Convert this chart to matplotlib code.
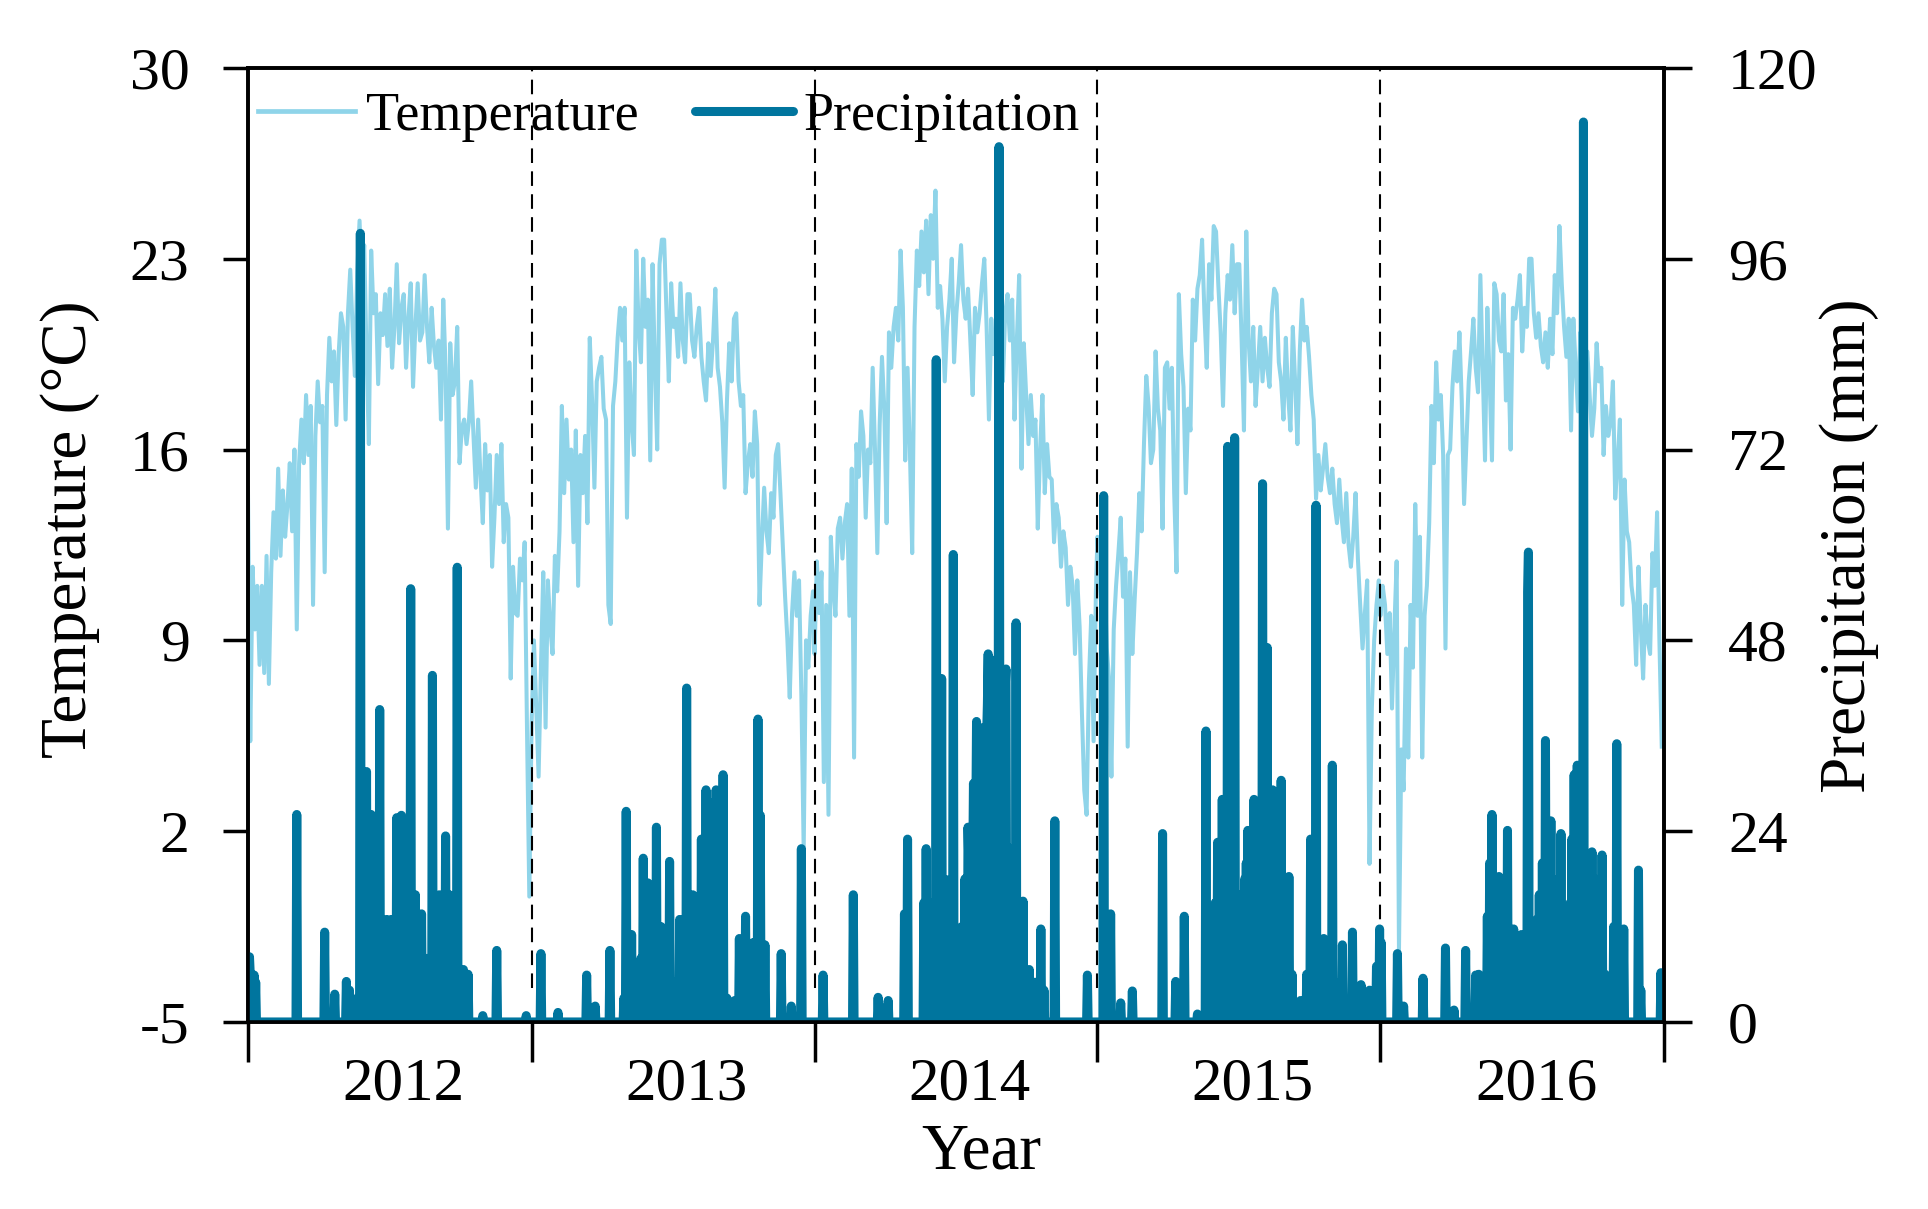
#-------------------------------------------------------------------------------
# Daily temperature and precipitation, 2012-2016
#-------------------------------------------------------------------------------
import numpy as np
import pandas as pd
import matplotlib
matplotlib.use('Agg')
import matplotlib.pyplot as plt
from matplotlib.lines import Line2D

plt.rcParams['font.family'] = ['Liberation Serif', 'DejaVu Serif']
plt.rcParams['axes.unicode_minus'] = False

#-------------------------------------------------------------------------------
# Data
#-------------------------------------------------------------------------------
years = [2012, 2013, 2014, 2015, 2016]
temp_step = 3  # days between temperature readings

temp_2012 = [14.6, 5.3, 11.7, 9.4, 11.0, 8.1, 11.0, 7.8, 12.1, 7.4, 11.5, 13.7,
             12.0, 15.3, 12.1, 14.5, 12.8, 14.0, 15.5, 13.0, 16.0, 9.4, 15.5, 17.1,
             15.5, 18.0, 15.8, 17.6, 10.3, 16.5, 18.5, 17.0, 17.6, 11.5, 18.0, 20.1,
             18.5, 19.6, 16.9, 19.5, 21.0, 20.5, 17.1, 21.0, 22.6, 20.5, 18.7, 22.5,
             24.4, 22.0, 23.5, 19.5, 16.2, 23.3, 21.0, 21.7, 18.4, 21.0, 20.2, 21.7,
             19.8, 21.9, 19.0, 20.5, 22.8, 19.9, 21.2, 21.7, 19.0, 20.8, 22.1, 18.3,
             20.5, 22.1, 20.0, 20.3, 22.4, 20.5, 19.2, 21.2, 19.8, 19.0, 20.0, 17.1,
             21.5, 19.0, 13.1, 19.9, 18.0, 18.5, 20.5, 15.5, 16.8, 17.1, 16.2, 17.0,
             18.5, 16.5, 14.6, 17.1, 15.0, 13.3, 16.2, 14.5, 15.8, 11.7, 13.5, 15.8,
             14.0, 16.2, 12.6, 14.0, 13.5, 7.6, 11.7, 10.0, 9.9, 12.0, 11.2, 12.6,
             5.8, -0.4]
temp_2013 = [6.0, 9.0, 6.5, 4.0, 8.0, 11.5, 5.8, 11.2, 9.5, 8.5, 12.1, 10.8,
             13.0, 17.6, 14.4, 17.1, 14.9, 16.0, 12.6, 16.7, 11.0, 15.8, 14.4, 16.5,
             13.3, 20.1, 17.8, 14.6, 18.5, 19.0, 19.4, 17.5, 17.1, 10.3, 9.6, 17.6,
             18.5, 20.1, 21.2, 20.0, 21.2, 13.5, 19.2, 17.0, 15.8, 23.3, 20.5, 19.2,
             23.0, 20.5, 21.5, 15.6, 22.8, 19.0, 16.0, 22.8, 23.7, 23.7, 21.0, 18.5,
             22.1, 20.5, 20.8, 19.4, 22.1, 20.0, 19.2, 21.7, 21.7, 20.0, 19.4, 20.5,
             21.2, 19.4, 18.5, 17.8, 19.9, 18.7, 20.0, 21.9, 19.0, 18.3, 17.0, 14.6,
             17.8, 19.9, 18.5, 20.8, 21.0, 18.5, 17.6, 18.0, 14.4, 15.5, 16.2, 15.0,
             17.4, 16.2, 10.3, 12.6, 14.6, 13.0, 12.2, 14.4, 13.5, 15.8, 16.2, 14.4,
             12.5, 10.6, 9.0, 6.9, 10.0, 11.5, 9.9, 11.2, 7.0, 1.3, 9.0, 8.0,
             9.9, 10.8]
temp_2014 = [8.5, 11.9, 10.0, 11.5, 3.8, 10.3, 2.6, 12.8, 11.0, 9.9, 13.1, 13.5,
             12.0, 13.3, 14.0, 9.9, 15.3, 4.7, 16.2, 15.0, 17.4, 16.5, 13.5, 16.0,
             15.5, 19.0, 16.0, 12.2, 16.9, 19.4, 17.5, 13.3, 20.3, 19.0, 20.5, 21.2,
             20.0, 23.3, 21.2, 15.6, 19.0, 16.0, 12.2, 20.5, 23.3, 22.0, 24.0, 22.5,
             24.4, 21.7, 24.6, 23.0, 25.5, 21.2, 22.0, 20.8, 18.5, 20.5, 21.5, 23.0,
             19.2, 21.0, 22.1, 23.5, 21.5, 20.8, 21.9, 20.0, 18.0, 21.2, 20.3, 21.0,
             22.1, 23.0, 20.5, 17.1, 20.8, 19.5, 20.3, 21.7, 20.0, 18.5, 21.0, 21.7,
             20.0, 21.5, 17.1, 20.0, 22.4, 15.3, 19.9, 18.0, 16.2, 18.0, 16.5, 17.1,
             13.1, 16.0, 18.0, 14.4, 16.2, 15.0, 14.9, 12.6, 14.0, 13.5, 11.7, 13.0,
             12.4, 10.3, 11.7, 11.0, 8.5, 11.2, 9.5, 6.3, 3.5, 2.6, 7.5, 9.9,
             5.3, 10.8]
temp_2015 = [12.8, 11.0, 9.9, 11.5, 8.7, 7.6, 4.0, 9.4, 11.0, 12.2, 13.5, 10.6,
             12.0, 5.1, 11.5, 8.5, 10.5, 12.2, 14.4, 13.0, 16.2, 18.7, 17.6, 15.5,
             16.0, 19.6, 17.5, 16.7, 13.1, 19.0, 19.2, 17.5, 19.0, 14.4, 11.5, 21.7,
             19.5, 18.3, 14.4, 17.5, 16.7, 21.5, 20.0, 21.9, 22.4, 23.7, 21.0, 19.0,
             22.8, 21.5, 24.2, 24.0, 22.0, 20.3, 17.6, 21.0, 22.4, 21.5, 23.5, 21.0,
             22.8, 22.8, 20.0, 16.7, 24.0, 20.0, 18.5, 20.5, 17.6, 19.0, 20.5, 18.5,
             20.1, 19.0, 18.3, 21.0, 21.9, 21.7, 19.2, 18.5, 17.1, 20.1, 18.0, 16.7,
             20.5, 18.5, 16.2, 19.6, 21.5, 20.0, 20.5, 19.4, 18.0, 17.1, 14.2, 15.8,
             14.5, 15.3, 16.2, 15.0, 14.4, 15.3, 14.0, 13.3, 14.9, 13.5, 12.6, 14.4,
             12.5, 11.7, 12.8, 14.4, 12.0, 10.3, 8.7, 10.0, 11.2, 0.8, 6.5, 9.0,
             10.3, 11.2]
temp_2016 = [9.9, 11.0, 10.3, 8.5, 10.0, 6.5, 9.4, 11.9, -2.4, 5.0, 3.5, 8.7,
             4.7, 10.3, 8.0, 14.0, 9.9, 12.8, 4.7, 9.9, 11.0, 13.3, 17.6, 15.5,
             19.2, 17.1, 18.0, 15.8, 8.7, 15.8, 16.0, 18.3, 19.6, 18.5, 20.3, 17.8,
             14.0, 16.2, 18.5, 19.6, 20.8, 19.0, 18.1, 22.4, 19.0, 15.6, 21.2, 18.5,
             15.6, 22.1, 21.7, 20.0, 19.6, 21.7, 17.8, 19.5, 16.0, 21.2, 20.8, 21.5,
             22.4, 19.6, 21.2, 20.5, 23.0, 23.0, 21.0, 20.1, 21.0, 19.8, 19.2, 20.3,
             19.0, 20.8, 19.5, 22.4, 21.0, 24.2, 22.1, 20.5, 19.4, 20.8, 16.7, 20.8,
             19.0, 17.4, 20.3, 18.5, 19.4, 19.6, 18.0, 16.5, 17.5, 19.9, 18.5, 19.0,
             15.8, 17.6, 16.5, 17.0, 18.5, 14.2, 15.5, 17.1, 10.3, 14.9, 13.0, 12.6,
             11.0, 10.3, 8.1, 11.7, 9.5, 7.6, 10.3, 9.0, 8.5, 12.2, 11.0, 13.7,
             9.0, 5.1]

# rainy days: (day of year, mm); all other days are dry
rain_2012 = [(2, 8.2), (3, 6.0), (8, 5.9), (10, 5.0), (63, 26.1), (99, 11.3), (112, 3.5),
             (127, 5.1), (131, 4.0), (141, 3.0), (145, 99.2), (149, 12.0), (153, 31.5),
             (156, 20.0), (159, 26.1), (162, 10.0), (165, 8.0), (170, 39.3), (173, 10.0),
             (176, 6.0), (179, 12.9), (182, 6.0), (185, 12.9), (188, 9.0), (192, 25.7),
             (195, 15.0), (198, 26.0), (201, 10.0), (204, 16.0), (207, 8.0), (210, 54.5),
             (213, 12.0), (216, 16.0), (219, 9.0), (222, 6.0), (224, 13.6), (227, 6.0),
             (231, 8.0), (234, 5.0), (238, 43.6), (241, 10.0), (244, 14.0), (247, 16.0),
             (250, 7.0), (255, 23.4), (258, 12.0), (260, 16.0), (264, 8.0), (270, 57.2),
             (274, 5.0), (278, 6.6), (284, 6.0), (303, 0.8), (321, 9.0), (359, 0.8)]
rain_2013 = [(12, 8.6), (34, 1.2), (71, 5.9), (82, 2.0), (101, 9.0), (119, 3.0), (122, 26.5),
             (125, 4.0), (129, 11.0), (133, 5.0), (137, 4.0), (141, 8.0), (144, 20.6),
             (147, 10.0), (150, 17.5), (154, 9.0), (157, 12.0), (161, 24.5), (164, 6.0),
             (167, 12.0), (171, 5.0), (174, 8.0), (178, 20.2), (183, 5.0), (187, 4.0),
             (191, 12.9), (194, 8.0), (197, 10.0), (200, 42.0), (204, 16.0), (208, 16.0),
             (212, 8.0), (215, 6.6), (219, 23.0), (222, 12.0), (225, 29.2), (229, 10.0),
             (232, 27.6), (235, 8.0), (238, 29.2), (242, 6.0), (247, 31.1), (252, 3.0),
             (262, 2.7), (268, 10.5), (272, 8.0), (276, 13.3), (280, 6.0), (286, 10.0),
             (292, 38.1), (295, 26.0), (298, 6.0), (301, 9.7), (322, 8.6), (335, 2.0),
             (348, 21.8)]
rain_2014 = [(11, 5.9), (50, 16.0), (82, 3.1), (84, 2.0), (95, 2.7), (116, 13.6), (120, 23.0),
             (141, 15.0), (144, 21.8), (147, 10.0), (150, 12.0), (153, 15.0), (157, 83.3),
             (160, 14.0), (164, 43.2), (167, 12.0), (170, 17.9), (173, 9.0), (176, 14.0),
             (179, 58.8), (183, 9.0), (187, 10.5), (190, 12.0), (194, 18.0), (198, 24.5),
             (199, 20.0), (201, 15.0), (202, 22.0), (204, 18.0), (205, 30.0), (206, 28.0),
             (208, 25.0), (209, 37.8), (210, 30.0), (212, 20.0), (213, 28.0), (215, 37.0),
             (216, 33.0), (218, 26.0), (219, 30.0), (221, 35.0), (222, 36.0), (223, 40.0),
             (224, 46.3), (226, 34.0), (227, 30.0), (228, 36.0), (229, 40.0), (230, 45.5),
             (232, 28.0), (233, 25.0), (234, 35.0), (236, 26.0), (237, 40.0), (238, 110.1),
             (239, 38.0), (240, 44.0), (241, 30.0), (243, 35.0), (244, 38.0), (246, 42.0),
             (247, 44.4), (249, 22.0), (250, 20.0), (252, 12.0), (254, 15.2), (257, 12.0),
             (260, 50.2), (263, 10.0), (266, 8.0), (269, 15.2), (273, 5.0), (277, 6.6),
             (280, 4.0), (284, 5.0), (288, 4.0), (292, 11.7), (296, 4.0), (310, 25.3),
             (352, 5.9)]
rain_2015 = [(8, 66.2), (10, 8.0), (17, 13.6), (30, 2.4), (45, 3.9), (84, 23.7), (101, 5.1),
             (112, 13.3), (129, 1.0), (140, 36.6), (144, 6.0), (148, 10.0), (152, 15.0),
             (155, 22.6), (158, 12.0), (161, 28.0), (163, 15.0), (165, 10.0), (168, 72.4),
             (171, 14.0), (174, 20.0), (177, 73.5), (180, 12.0), (182, 16.0), (184, 10.0),
             (187, 14.0), (190, 18.0), (192, 20.0), (194, 24.1), (197, 15.0), (200, 20.0),
             (202, 28.0), (204, 18.0), (206, 18.0), (209, 22.0), (211, 15.0), (213, 67.7),
             (216, 20.0), (219, 47.1), (222, 18.0), (224, 20.0), (226, 29.2), (229, 15.0),
             (231, 18.0), (233, 12.0), (237, 30.4), (240, 10.0), (244, 8.0), (247, 18.3),
             (251, 6.0), (262, 2.7), (270, 6.0), (275, 23.0), (278, 10.0), (282, 65.0),
             (286, 8.0), (292, 10.5), (296, 4.0), (303, 32.3), (307, 5.0), (316, 9.7),
             (329, 11.3), (333, 3.0), (340, 4.7), (351, 4.0), (356, 3.0), (360, 7.0),
             (364, 11.7)]
rain_2016 = [(1, 10.0), (22, 8.6), (30, 2.0), (55, 5.5), (84, 9.3), (95, 1.5), (110, 9.0),
             (123, 5.9), (127, 6.0), (132, 4.0), (138, 13.3), (141, 20.0), (144, 26.1),
             (147, 18.0), (150, 15.0), (153, 18.3), (157, 10.0), (160, 14.0), (164, 24.1),
             (168, 8.0), (172, 11.7), (176, 8.0), (179, 10.0), (182, 11.0), (185, 7.0),
             (190, 54.1), (191, 59.1), (195, 10.0), (199, 10.0), (202, 12.9), (205, 16.0),
             (209, 20.0), (213, 35.4), (216, 18.0), (220, 25.3), (223, 15.0), (227, 16.0),
             (230, 18.0), (233, 23.7), (237, 12.0), (241, 11.0), (245, 15.0), (247, 23.0),
             (250, 31.1), (254, 32.3), (258, 20.0), (262, 113.2), (265, 20.0), (268, 20.0),
             (271, 18.0), (273, 21.4), (277, 18.0), (281, 15.0), (286, 21.0), (290, 6.0),
             (295, 2.0), (301, 12.0), (305, 35.0), (309, 10.0), (314, 11.7), (333, 19.1),
             (336, 4.0), (362, 6.2)]

temps = [temp_2012, temp_2013, temp_2014, temp_2015, temp_2016]
rains = [rain_2012, rain_2013, rain_2014, rain_2015, rain_2016]

c_temp = '#8fd4e9'
c_rain = '#00759e'

#-------------------------------------------------------------------------------
# Build series
#-------------------------------------------------------------------------------
t_x, t_y = [], []
for yr, vals in zip(years, temps):
    start = pd.Timestamp(f'{yr}-01-01')
    t_x.extend(start + pd.to_timedelta(np.arange(len(vals)) * temp_step, unit='D'))
    t_y.extend(vals)
t_x = pd.DatetimeIndex(t_x)

days = pd.date_range('2012-01-01', '2016-12-31', freq='D')
rain = np.zeros(len(days))
for yr, events in zip(years, rains):
    off = (pd.Timestamp(f'{yr}-01-01') - days[0]).days
    for d, mm in events:
        rain[off + d] = mm

#-------------------------------------------------------------------------------
# Plot
#-------------------------------------------------------------------------------
fig = plt.figure(figsize=(19.28, 12.09), dpi=100)
ax = fig.add_axes([0.1286, 0.1547, 0.7345, 0.7891])
ax2 = ax.twinx()

ax.plot(t_x, t_y, color=c_temp, lw=2.9, zorder=2)
ax2.plot(days, rain, color=c_rain, lw=6.5, solid_joinstyle='round',
         solid_capstyle='round', zorder=2)

bounds = [pd.Timestamp(f'{y}-01-01') for y in range(2012, 2018)]
for b in bounds[1:-1]:
    ax.axvline(b, ymin=0.036, ymax=1, color='black', lw=1.5, dashes=(7, 4), zorder=3)

ax.set_xlim(bounds[0], bounds[-1])
ax.set_ylim(-5, 30)
ax2.set_ylim(0, 120)

ax.set_xticks(bounds)
ax.set_xticklabels([''] * len(bounds))
ax.set_xticks([pd.Timestamp(f'{y}-07-20') for y in years], minor=True)
ax.set_xticklabels([str(y) for y in years], minor=True)
ax.tick_params(axis='x', which='major', length=29, width=2.5, direction='out')
ax.tick_params(axis='x', which='minor', length=0, pad=25, labelsize=44)

ax.set_yticks([-5, 2, 9, 16, 23, 30])
ax2.set_yticks([0, 24, 48, 72, 96, 120])
ax.tick_params(axis='y', length=18, width=2.5, direction='out', labelsize=43, pad=24)
ax2.tick_params(axis='y', length=20, width=2.5, direction='out', labelsize=43, pad=26)

for a in (ax, ax2):
    for s in a.spines.values():
        s.set_linewidth(2.6)

ax.set_ylabel('Temperature (°C)', fontsize=47)
ax.yaxis.set_label_coords(-0.1045, 0.517)
ax2.set_ylabel('Precipitation (mm)', fontsize=47)
ax2.yaxis.set_label_coords(1.110, 0.499)
ax.set_xlabel('Year', fontsize=47)
ax.xaxis.set_label_coords(0.518, -0.106)

handles = [Line2D([], [], color=c_temp, lw=3.4),
           Line2D([], [], color=c_rain, lw=6.5, solid_capstyle='round')]
ax2.legend(handles, ['Temperature', 'Precipitation'], loc='center left',
           bbox_to_anchor=(0.0068, 0.949), frameon=False, ncol=2, fontsize=39,
           handlelength=1.8, handletextpad=0.2, columnspacing=1.05,
           borderpad=0, borderaxespad=0)

fig.savefig('out.png', dpi=100)
